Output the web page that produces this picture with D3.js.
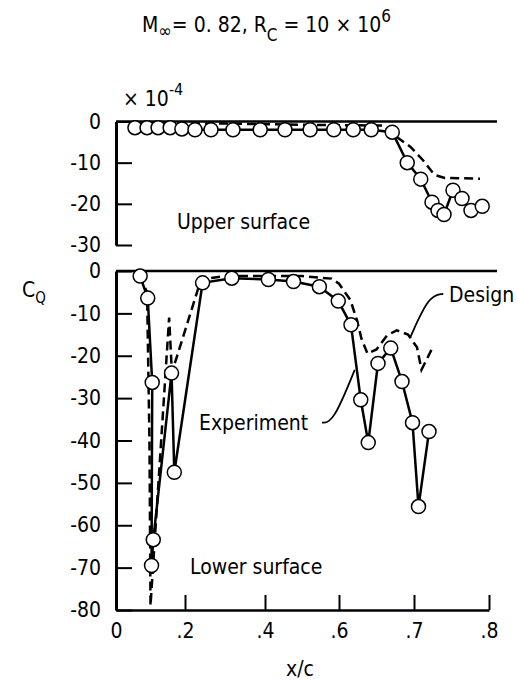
<!DOCTYPE html>
<html>
<head>
<meta charset="utf-8">
<script src="https://cdn.jsdelivr.net/npm/d3@7"></script>
<style>
  body { margin: 0; background: #fff; }
  svg text { font-family: "DejaVu Sans Condensed", "DejaVu Sans", sans-serif; fill: #000; }
</style>
</head>
<body>
<div id="chart-area"></div>
<script>
// upper surface, experiment (circles)
const upperX = [0.055, 0.090, 0.122, 0.157, 0.191, 0.225, 0.265, 0.320, 0.388, 0.454, 0.522, 0.586, 0.619, 0.643,
                0.671, 0.691, 0.709, 0.724, 0.732, 0.740, 0.752, 0.764, 0.776, 0.791];
const upperCQ = [-1.5, -1.5, -1.5, -1.5, -1.8, -2, -2, -2, -2, -2, -2, -2, -2, -2,
                 -2.6, -10.0, -14.0, -19.6, -21.6, -22.6, -16.7, -18.7, -21.6, -20.6];
// upper surface, design (dashed)
const upperDesignX = [0.055, 0.3, 0.5, 0.66, 0.677, 0.695, 0.712, 0.724, 0.728, 0.741, 0.788];
const upperDesignCQ = [-0.5, -0.5, -0.8, -1.0, -3.8, -6.1, -9.4, -12.2, -13.0, -13.7, -13.9];

// lower surface, experiment (circles, in drawing order)
const lowerX = [0.070, 0.092, 0.105, 0.103, 0.108, 0.161, 0.169, 0.244, 0.317, 0.409, 0.477, 0.547, 0.598,
                0.616, 0.629, 0.639, 0.652, 0.669, 0.684, 0.698, 0.706, 0.720];
const lowerCQ = [-1.2, -6.4, -26.3, -69.5, -63.4, -24.1, -47.5, -2.8, -1.7, -2.0, -2.5, -3.7, -7.1,
                 -12.7, -30.4, -40.5, -21.8, -18.2, -26.1, -35.8, -55.6, -37.9];
// lower surface, design (dashed)
const lowerDesignX = [0.068, 0.090, 0.097, 0.100, 0.154, 0.162, 0.240, 0.300, 0.500, 0.580, 0.600, 0.615, 0.624,
                      0.630, 0.638, 0.650, 0.664, 0.677, 0.692, 0.704, 0.710, 0.725];
const lowerDesignCQ = [-1.0, -5.0, -40.0, -79.0, -11.0, -24.0, -2.0, -1.2, -1.2, -1.8, -3.0, -6.8, -11.6,
                       -16.0, -19.5, -18.5, -15.2, -14.0, -15.0, -18.0, -23.3, -18.0];

const xTicks = [0, 0.2, 0.4, 0.6, 0.7, 0.8];
const upperTicks = [0, -10, -20, -30];
const lowerTicks = [0, -10, -20, -30, -40, -50, -60, -70, -80];

// leader lines, in data units
const designLeader = [[0.739, -5.4], [0.720, -5.7], [0.6947, -15.8]];
const expLeader = [[0.554, -35.8], [0.584, -35.8], [0.621, -23.3]];

const svg = d3.select("#chart-area").append("svg")
    .attr("width", 518)
    .attr("height", 685);

// x axis is stretched beyond 0.6
const x = d3.scaleLinear()
    .domain(xTicks)
    .range([116, 185, 265, 339, 414, 489]);

const yU = d3.scaleLinear().domain([0, -30]).range([121.5, 245]);
const yL = d3.scaleLinear().domain([0, -80]).range([271, 610]);

const fs = 21;

function panel(y, ticks, ex, ey, dx, dy) {
    const g = svg.append("g");

    g.append("g")
        .attr("transform", "translate(" + x(0) + ",0)")
        .call(d3.axisLeft(y).tickValues(ticks).tickSizeInner(-16).tickSizeOuter(0).tickPadding(15))
        .call(a => a.select(".domain").attr("stroke-width", 3))
        .call(a => a.selectAll(".tick line").attr("stroke-width", 2))
        .call(a => a.selectAll("text").attr("font-size", fs).attr("fill", "#000")
            .text(d => d === 0 ? "0" : d));

    g.append("line")
        .attr("x1", x(0)).attr("x2", x(0.8) + 8)
        .attr("y1", y(0)).attr("y2", y(0))
        .attr("stroke", "#000").attr("stroke-width", 2.5);

    const line = d3.line().x(d => x(d[0])).y(d => y(d[1]));

    g.append("path")
        .attr("d", line(dx.map((v, i) => [v, dy[i]])))
        .attr("fill", "none").attr("stroke", "#000")
        .attr("stroke-width", 2.5).attr("stroke-dasharray", "9,5");

    const pts = ex.map((v, i) => [v, ey[i]]);
    g.append("path")
        .attr("d", line(pts))
        .attr("fill", "none").attr("stroke", "#000").attr("stroke-width", 2.5);

    g.selectAll("circle")
        .data(pts)
        .enter()
        .append("circle")
        .attr("cx", d => x(d[0]))
        .attr("cy", d => y(d[1]))
        .attr("r", 7)
        .attr("fill", "#fff")
        .attr("stroke", "#000")
        .attr("stroke-width", 1.5);
    return g;
}

panel(yU, upperTicks, upperX, upperCQ, upperDesignX, upperDesignCQ);
panel(yL, lowerTicks, lowerX, lowerCQ, lowerDesignX, lowerDesignCQ);

// bottom x axis
svg.append("g")
    .attr("transform", "translate(0," + yL(-80) + ")")
    .call(d3.axisBottom(x).tickValues(xTicks).tickSizeInner(-15).tickSizeOuter(0).tickPadding(13))
    .call(a => a.select(".domain").attr("stroke-width", 2.5))
    .call(a => a.selectAll(".tick line").attr("stroke-width", 2).attr("opacity", d => d === 0 ? 0 : 1))
    .call(a => a.selectAll("text").attr("font-size", fs).attr("fill", "#000")
        .text(d => d === 0 ? "0" : "." + Math.round(d * 10)));

// leader lines
const leader = d3.line().curve(d3.curveBasis).x(d => x(d[0])).y(d => yL(d[1]));
[designLeader, expLeader].forEach(p => {
    svg.append("path").attr("d", leader(p))
        .attr("fill", "none").attr("stroke", "#000").attr("stroke-width", 1.8);
});

// labels
svg.append("text").attr("x", 449).attr("y", 302).attr("font-size", fs).text("Design");
svg.append("text").attr("x", 199).attr("y", 430).attr("font-size", fs).text("Experiment");
svg.append("text").attr("x", 177).attr("y", 229).attr("font-size", fs).text("Upper surface");
svg.append("text").attr("x", 190).attr("y", 574).attr("font-size", fs).text("Lower surface");

svg.append("text").attr("x", 300).attr("y", 676).attr("font-size", fs)
    .attr("text-anchor", "middle").text("x/c");

const cq = svg.append("text").attr("x", 22).attr("y", 297).attr("font-size", fs);
cq.append("tspan").text("C");
cq.append("tspan").attr("font-size", 15).attr("dy", 6).text("Q");

const mult = svg.append("text").attr("x", 123).attr("y", 106).attr("font-size", fs);
mult.append("tspan").text("\u00d7 10");
mult.append("tspan").attr("font-size", 16).attr("dy", -11).text("-4");

const title = svg.append("text").attr("x", 142).attr("y", 32).attr("font-size", 21);
title.append("tspan").text("M");
title.append("tspan").attr("font-size", 18).attr("dy", 5).text("\u221e");
title.append("tspan").attr("dy", -5).text("= 0. 82,  R");
title.append("tspan").attr("font-size", 17).attr("dy", 9).text("C");
title.append("tspan").attr("dy", -9).text(" = 10 \u00d7 10");
title.append("tspan").attr("font-size", 17).attr("dy", -10).text("6");
</script>
</body>
</html>
